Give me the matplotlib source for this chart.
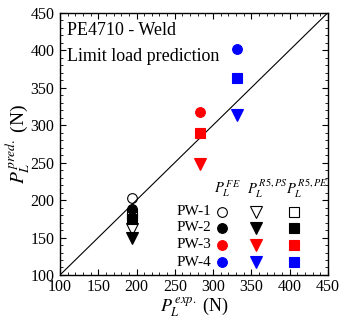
import matplotlib.pyplot as plt

plt.rcParams['font.family'] = ['Liberation Serif', 'DejaVu Serif']
plt.rcParams['mathtext.fontset'] = 'stix'

# experimental and predicted limit loads (N)
pipes = ['PW-1', 'PW-2', 'PW-3', 'PW-4']
colors = ['k', 'k', 'red', 'blue']
filled = [False, True, True, True]
p_exp = [194, 194, 283, 331]
p_fe = [203, 188, 318, 401]
p_r5ps = [162, 149, 248, 313]
p_r5pe = [182, 175, 290, 363]

fig = plt.figure(figsize=(3.39, 3.19), dpi=100)
ax = fig.add_axes([0.177, 0.138, 0.79, 0.822])

ax.plot([100, 450], [100, 450], color='k', lw=0.8)

markers = ['o', 'v', 's']
msizes = [7, 8, 6.5]
series = [p_fe, p_r5ps, p_r5pe]
for i in range(len(pipes)):
    fc = colors[i] if filled[i] else 'none'
    for m, ms, s in zip(markers, msizes, series):
        ax.plot(p_exp[i], s[i], marker=m, ms=ms, mfc=fc, mec=colors[i],
                mew=0.8, ls='none')

# legend table (rows = pipes, columns = methods)
row_y = [0.241, 0.180, 0.116, 0.049]
col_x = [0.604, 0.731, 0.873]
for i in range(len(pipes)):
    fc = colors[i] if filled[i] else 'none'
    ax.text(0.565, row_y[i], pipes[i], transform=ax.transAxes, fontsize=11,
            ha='right', va='center')
    for m, ms, cx in zip(markers, msizes, col_x):
        ax.plot(cx, row_y[i], marker=m, ms=ms, mfc=fc, mec=colors[i],
                mew=0.8, ls='none', transform=ax.transAxes)
headers = [r'$P_L^{\,FE}$', r'$P_L^{\,R5,PS}$', r'$P_L^{\,R5,PE}$']
head_x = [0.575, 0.70, 0.845]
for hx, h in zip(head_x, headers):
    ax.text(hx, 0.33, h, transform=ax.transAxes, fontsize=10.5, va='center')

ax.text(0.025, 0.915, 'PE4710 - Weld', transform=ax.transAxes, fontsize=13)
ax.text(0.025, 0.815, 'Limit load prediction', transform=ax.transAxes,
        fontsize=13)

ax.set_xlim(100, 450)
ax.set_ylim(100, 450)
ax.set_xticks(range(100, 451, 50))
ax.set_yticks(range(100, 451, 50))
ax.minorticks_on()
ax.tick_params(which='both', direction='in', top=True, right=True,
               labelsize=11.5)
ax.tick_params(axis='y', pad=4)
ax.tick_params(axis='x', pad=3)
ax.tick_params(which='major', length=4)
ax.tick_params(which='minor', length=2)
for sp in ax.spines.values():
    sp.set_linewidth(1.0)

ax.set_xlabel(r'$P_L^{\,exp.}$ (N)', fontsize=13, labelpad=0)
ax.set_ylabel(r'$P_L^{\,pred.}$ (N)', fontsize=14, labelpad=-1)

plt.savefig('out.png', dpi=100)
